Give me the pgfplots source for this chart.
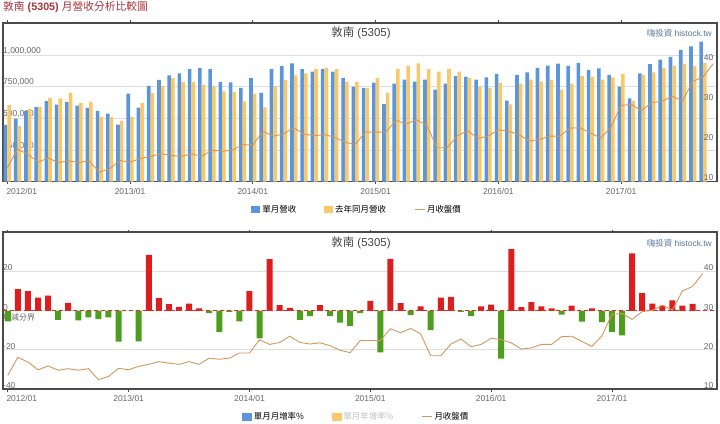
\documentclass[border=0pt]{standalone}
\usepackage{pgfplots}
\pgfplotsset{compat=1.18}
\usepackage{pgfplotstable}
\usepackage{fontspec}
\setmainfont{Liberation Sans}
\newfontfamily\cjk{Noto Sans CJK TC}

\definecolor{barblue}{HTML}{5B95DC}
\definecolor{baryel}{HTML}{F7C96B}
\definecolor{barred}{HTML}{DC1E1E}
\definecolor{bargreen}{HTML}{4E9E1E}
\definecolor{price}{HTML}{D4965C}
\definecolor{titlered}{HTML}{A8343A}
\definecolor{framec}{HTML}{4A4A4A}
\definecolor{gridc}{HTML}{DEDEDE}
\definecolor{ticktext}{HTML}{666666}
\definecolor{creditc}{HTML}{5A7896}
\definecolor{titlec}{HTML}{444444}

\pgfplotstableread{
i rev ly
0 448000 607000
1 498000 438000
2 557000 575000
3 591000 591000
4 636000 662000
5 609000 657000
6 630000 699000
7 601000 620000
8 583000 630000
9 559000 512000
10 538000 509000
11 450000 480000
12 696000 512000
13 585000 620000
14 757000 701000
15 804000 757000
16 839000 817000
17 854000 786000
18 889000 788000
19 897000 767000
20 889000 757000
21 788000 712000
22 783000 709000
23 741000 633000
24 817000 696000
25 701000 586000
26 889000 755000
27 915000 804000
28 933000 839000
29 889000 854000
30 868000 889000
31 889000 898000
32 868000 889000
33 817000 790000
34 751000 785000
35 741000 741000
36 781000 817000
37 612000 701000
38 775000 889000
39 806000 915000
40 790000 933000
41 806000 889000
42 727000 868000
43 775000 889000
44 833000 868000
45 829000 817000
46 806000 751000
47 824000 741000
48 852000 781000
49 640000 610000
50 843000 775000
51 862000 806000
52 899000 790000
53 917000 806000
54 932000 727000
55 914000 775000
56 938000 833000
57 883000 829000
58 894000 806000
59 844000 824000
60 751000 852000
61 658000 640000
62 854000 843000
63 927000 862000
64 963000 899000
65 986000 917000
66 1040000 932000
67 1069000 914000
68 1106000 938000
}\revtab

\pgfplotstableread{
i p
0 13.5
1 18.1
2 16.9
3 14.9
4 15.9
5 14.8
6 15.2
7 14.8
8 15.2
9 12.4
10 13.2
11 15.3
12 14.9
13 15.8
14 16.3
15 17.0
16 16.6
17 16.3
18 17.0
19 16.3
20 17.9
21 17.6
22 17.9
23 19.2
24 19.2
25 22.6
26 21.4
27 21.9
28 23.5
29 21.9
30 21.5
31 21.8
32 21.1
33 19.9
34 19.3
35 22.4
36 22.4
37 22.4
38 25.4
39 24.4
40 25.5
41 24.1
42 18.5
43 18.5
44 21.5
45 22.8
46 20.8
47 21.4
48 23.0
49 22.6
50 21.8
51 20.2
52 20.5
53 21.4
54 21.4
55 23.4
56 23.5
57 22.2
58 20.9
59 23.6
60 29.1
61 29.3
62 27.8
63 29.8
64 30.1
65 31.4
66 30.2
67 35.1
68 36.2
69 39.5
}\pricetab

\pgfplotstableread{
i v
0 -5.4
1 11.1
2 10.0
3 6.8
4 7.8
5 -4.6
6 4.1
7 -4.9
8 -3.4
9 -4.3
10 -3.4
11 -15.8
13 -15.7
14 28.6
15 6.5
16 3.4
17 2.0
18 3.7
19 1.2
20 -1.2
21 -10.9
22 -0.6
23 -5.4
24 10.0
25 -14.1
26 26.4
27 2.9
28 1.5
29 -4.6
30 -2.7
31 2.9
32 -2.7
33 -6.1
34 -7.8
35 -1.2
36 5.1
37 -21.3
38 26.6
39 3.9
40 -2.2
41 2.2
42 -9.9
43 6.8
44 7.1
45 -0.5
46 -2.7
47 2.2
48 3.2
49 -24.5
50 31.5
51 1.9
52 4.4
53 2.2
54 1.2
55 -1.9
56 2.6
57 -5.6
58 1.2
59 -5.8
60 -10.9
61 -12.6
62 29.4
63 9.0
64 3.7
65 2.7
66 5.3
67 2.7
68 3.6
}\momtab

\pgfplotsset{
  base/.style={
    scale only axis, width=714bp,
    axis line style={draw=framec, line width=1.4bp},
    tick label style={font=\fontsize{8.5}{10}\selectfont, text=ticktext},
    /pgf/number format/assume math mode=true,
    scaled y ticks=false,
  },
}

\begin{document}
\begin{tikzpicture}
\path[use as bounding box] (0,0) rectangle (720bp,424bp);

\node[anchor=west, inner sep=0pt, text=titlered, font=\fontsize{10.8}{12}\selectfont] at (3bp,416.5bp) {{\cjk 敦南} \textbf{(5305)} {\cjk 月營收分析比較圖}};

% ===== top panel =====
\begin{axis}[base,
  at={(3bp,242.3bp)}, anchor=south west, height=158.7bp,
  xmin=-0.42, xmax=69.37, ymin=0, ymax=1252600,
  xtick={12,24,36,48,60},
  xticklabels={2013/01,2014/01,2015/01,2016/01,2017/01},
  extra x ticks={0}, extra x tick labels={2012/01},
  extra x tick style={xticklabel style={anchor=north west, xshift=-4.3bp}},
  xtick style={draw=framec, line width=0.8bp},
  major tick length=2.5bp, tick align=outside,
  xticklabel style={yshift=-0.5bp},
  ytick={0,250000,500000,750000,1000000},
  yticklabels={0,{250,000},{500,000},{750,000},{1,000,000}},
  ytick style={draw=none},
  yticklabel style={anchor=south west, inner sep=0.5pt, xshift=2bp},
  ymajorgrids, grid style={gridc, line width=0.8bp},
  legend style={at={(0.496,-0.178)}, anchor=center, draw=none, fill=none,
    font=\fontsize{8.5}{10}\selectfont, legend columns=-1,
    /tikz/every even column/.append style={column sep=26bp}},
]
\addplot[ybar, bar width=3.6bp, bar shift=-1.8bp, fill=barblue, draw=none,
  legend image code/.code={\fill[barblue] (0bp,-3.5bp) rectangle (9bp,4bp);}]
  table[x=i, y=rev]{\revtab};
\addlegendentry{\cjk 單月營收}
\addplot[ybar, bar width=3.6bp, bar shift=1.8bp, fill=baryel, draw=none,
  legend image code/.code={\fill[baryel] (0bp,-3.5bp) rectangle (9bp,4bp);}]
  table[x=i, y=ly]{\revtab};
\addlegendentry{\cjk 去年同月營收}
\addlegendimage{price, line width=1bp, legend image code/.code={\draw[price, line width=1bp] (0bp,0bp) -- (10bp,0bp);}}
\addlegendentry{\cjk 月收盤價}
\end{axis}

\begin{axis}[base,
  at={(3bp,242.3bp)}, anchor=south west, height=158.7bp,
  xmin=-0.42, xmax=69.37, ymin=10, ymax=49.7,
  axis x line=none, axis y line*=right,
  ytick={10,20,30,40},
  ytick style={draw=none},
  yticklabel style={anchor=south east, inner sep=0.5pt, xshift=-3bp},
]
\addplot[price, line width=0.9bp, mark=none] table[x=i, y=p]{\pricetab};
\end{axis}

\node[text=titlec, font=\fontsize{11.5}{13}\selectfont, inner sep=0pt] at (361bp,391bp) {{\cjk 敦南} (5305)};
\node[anchor=east, text=creditc, font=\fontsize{8.5}{10}\selectfont, inner sep=0pt] at (712bp,390.5bp) {{\cjk 嗨投資} histock.tw};

% ===== bottom panel =====
\begin{axis}[base,
  at={(3bp,35bp)}, anchor=south west, height=157bp,
  xmin=-0.477, xmax=70.43, ymin=-40, ymax=40.3,
  xtick={12,24,36,48,60},
  xticklabels={2013/01,2014/01,2015/01,2016/01,2017/01},
  extra x ticks={0}, extra x tick labels={2012/01},
  extra x tick style={xticklabel style={anchor=north west, xshift=-4.8bp}},
  xtick style={draw=framec, line width=0.8bp},
  major tick length=2.5bp, tick align=outside,
  xticklabel style={yshift=-0.5bp},
  ytick={-40,-20,0,20},
  ytick style={draw=none},
  yticklabel style={anchor=south west, inner sep=0.5pt, xshift=2bp},
  ymajorgrids, grid style={gridc, line width=0.8bp},
  legend style={at={(0.495,-0.178)}, anchor=center, draw=none, fill=none,
    font=\fontsize{8.5}{10}\selectfont, legend columns=-1,
    /tikz/every even column/.append style={column sep=26bp}},
]
\node[anchor=north west, inner sep=0pt, text=ticktext, font=\fontsize{8}{10}\selectfont] at (axis cs:-0.477,-1.6) {\cjk 增減分界};
\addplot[ybar, bar width=6bp, bar shift=0pt, fill=barred, draw=none, forget plot,
  restrict y to domain=0:100] table[x=i, y=v]{\momtab};
\addplot[ybar, bar width=6bp, bar shift=0pt, fill=bargreen, draw=none, forget plot,
  restrict y to domain=-100:0] table[x=i, y=v]{\momtab};
\addplot[barred!85!orange, line width=0.8bp, dash pattern=on 4bp off 3bp, forget plot] coordinates {(-0.477,0) (70.43,0)};
\addlegendimage{legend image code/.code={\fill[barblue] (0bp,-3.5bp) rectangle (9bp,4bp);}}
\addlegendentry{\cjk 單月月增率\%}
\addlegendimage{legend image code/.code={\fill[baryel] (0bp,-3.5bp) rectangle (9bp,4bp);}}
\addlegendentry{\textcolor{black!25}{\cjk 單月年增率\%}}
\addlegendimage{legend image code/.code={\draw[price, line width=1bp] (0bp,0bp) -- (10bp,0bp);}}
\addlegendentry{\cjk 月收盤價}
\end{axis}

\begin{axis}[base,
  at={(3bp,35bp)}, anchor=south west, height=157bp,
  xmin=-0.477, xmax=70.43, ymin=10, ymax=50.15,
  axis x line=none, axis y line*=right,
  ytick={10,20,30,40},
  ytick style={draw=none},
  yticklabel style={anchor=south east, inner sep=0.5pt, xshift=-3bp},
]
\addplot[price, line width=0.9bp, mark=none] table[x=i, y=p]{\pricetab};
\end{axis}

\node[text=titlec, font=\fontsize{11.5}{13}\selectfont, inner sep=0pt] at (361bp,181.3bp) {{\cjk 敦南} (5305)};
\node[anchor=east, text=creditc, font=\fontsize{8.5}{10}\selectfont, inner sep=0pt] at (712bp,181bp) {{\cjk 嗨投資} histock.tw};
\end{tikzpicture}
\end{document}
